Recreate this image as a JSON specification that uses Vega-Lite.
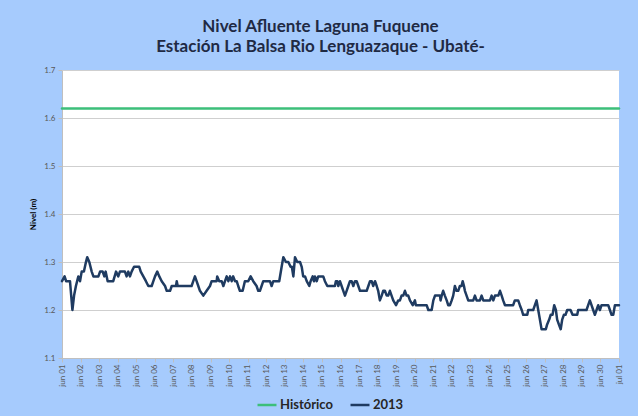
{
  "$schema": "https://vega.github.io/schema/vega-lite/v6.json",
  "width": 557,
  "height": 288,
  "autosize": {"type": "none"},
  "padding": {"left": 62, "top": 70, "right": 19, "bottom": 58},
  "background": "#a6cbfd",
  "title": {
    "text": ["Nivel Afluente Laguna Fuquene", "Estación La Balsa Rio Lenguazaque - Ubaté-"],
    "font": "Lato",
    "fontSize": 17,
    "fontWeight": "bold",
    "color": "#1f2a44",
    "lineHeight": 20,
    "offset": 10,
    "anchor": "middle",
    "dx": -20
  },
  "config": {
    "view": {"fill": "white", "stroke": null},
    "font": "Lato"
  },
  "datasets": {
    "niveles": [
      {"dia": 0, "nivel": 1.62, "serie": "Histórico"},
      {"dia": 30, "nivel": 1.62, "serie": "Histórico"},
      {"dia": 0.00, "nivel": 1.26, "serie": "2013"},
      {"dia": 0.14, "nivel": 1.27, "serie": "2013"},
      {"dia": 0.22, "nivel": 1.26, "serie": "2013"},
      {"dia": 0.43, "nivel": 1.26, "serie": "2013"},
      {"dia": 0.56, "nivel": 1.20, "serie": "2013"},
      {"dia": 0.65, "nivel": 1.23, "serie": "2013"},
      {"dia": 0.75, "nivel": 1.25, "serie": "2013"},
      {"dia": 0.88, "nivel": 1.27, "serie": "2013"},
      {"dia": 0.97, "nivel": 1.26, "serie": "2013"},
      {"dia": 1.06, "nivel": 1.28, "serie": "2013"},
      {"dia": 1.18, "nivel": 1.28, "serie": "2013"},
      {"dia": 1.29, "nivel": 1.30, "serie": "2013"},
      {"dia": 1.36, "nivel": 1.31, "serie": "2013"},
      {"dia": 1.47, "nivel": 1.30, "serie": "2013"},
      {"dia": 1.60, "nivel": 1.28, "serie": "2013"},
      {"dia": 1.69, "nivel": 1.27, "serie": "2013"},
      {"dia": 1.96, "nivel": 1.27, "serie": "2013"},
      {"dia": 2.05, "nivel": 1.28, "serie": "2013"},
      {"dia": 2.19, "nivel": 1.28, "serie": "2013"},
      {"dia": 2.28, "nivel": 1.27, "serie": "2013"},
      {"dia": 2.35, "nivel": 1.28, "serie": "2013"},
      {"dia": 2.46, "nivel": 1.26, "serie": "2013"},
      {"dia": 2.76, "nivel": 1.26, "serie": "2013"},
      {"dia": 2.91, "nivel": 1.28, "serie": "2013"},
      {"dia": 3.03, "nivel": 1.27, "serie": "2013"},
      {"dia": 3.12, "nivel": 1.28, "serie": "2013"},
      {"dia": 3.39, "nivel": 1.28, "serie": "2013"},
      {"dia": 3.48, "nivel": 1.27, "serie": "2013"},
      {"dia": 3.57, "nivel": 1.28, "serie": "2013"},
      {"dia": 3.66, "nivel": 1.27, "serie": "2013"},
      {"dia": 3.75, "nivel": 1.28, "serie": "2013"},
      {"dia": 3.88, "nivel": 1.29, "serie": "2013"},
      {"dia": 4.16, "nivel": 1.29, "serie": "2013"},
      {"dia": 4.24, "nivel": 1.28, "serie": "2013"},
      {"dia": 4.38, "nivel": 1.27, "serie": "2013"},
      {"dia": 4.52, "nivel": 1.26, "serie": "2013"},
      {"dia": 4.65, "nivel": 1.25, "serie": "2013"},
      {"dia": 4.83, "nivel": 1.25, "serie": "2013"},
      {"dia": 4.92, "nivel": 1.26, "serie": "2013"},
      {"dia": 5.01, "nivel": 1.27, "serie": "2013"},
      {"dia": 5.13, "nivel": 1.28, "serie": "2013"},
      {"dia": 5.24, "nivel": 1.27, "serie": "2013"},
      {"dia": 5.37, "nivel": 1.26, "serie": "2013"},
      {"dia": 5.55, "nivel": 1.25, "serie": "2013"},
      {"dia": 5.64, "nivel": 1.24, "serie": "2013"},
      {"dia": 5.82, "nivel": 1.24, "serie": "2013"},
      {"dia": 5.91, "nivel": 1.25, "serie": "2013"},
      {"dia": 6.14, "nivel": 1.25, "serie": "2013"},
      {"dia": 6.18, "nivel": 1.26, "serie": "2013"},
      {"dia": 6.23, "nivel": 1.25, "serie": "2013"},
      {"dia": 6.98, "nivel": 1.25, "serie": "2013"},
      {"dia": 7.07, "nivel": 1.26, "serie": "2013"},
      {"dia": 7.16, "nivel": 1.27, "serie": "2013"},
      {"dia": 7.25, "nivel": 1.26, "serie": "2013"},
      {"dia": 7.34, "nivel": 1.25, "serie": "2013"},
      {"dia": 7.43, "nivel": 1.24, "serie": "2013"},
      {"dia": 7.61, "nivel": 1.23, "serie": "2013"},
      {"dia": 7.79, "nivel": 1.24, "serie": "2013"},
      {"dia": 7.97, "nivel": 1.25, "serie": "2013"},
      {"dia": 8.06, "nivel": 1.26, "serie": "2013"},
      {"dia": 8.33, "nivel": 1.26, "serie": "2013"},
      {"dia": 8.36, "nivel": 1.27, "serie": "2013"},
      {"dia": 8.47, "nivel": 1.26, "serie": "2013"},
      {"dia": 8.60, "nivel": 1.26, "serie": "2013"},
      {"dia": 8.69, "nivel": 1.25, "serie": "2013"},
      {"dia": 8.78, "nivel": 1.26, "serie": "2013"},
      {"dia": 8.87, "nivel": 1.27, "serie": "2013"},
      {"dia": 8.96, "nivel": 1.26, "serie": "2013"},
      {"dia": 9.05, "nivel": 1.27, "serie": "2013"},
      {"dia": 9.14, "nivel": 1.26, "serie": "2013"},
      {"dia": 9.22, "nivel": 1.27, "serie": "2013"},
      {"dia": 9.32, "nivel": 1.26, "serie": "2013"},
      {"dia": 9.41, "nivel": 1.26, "serie": "2013"},
      {"dia": 9.49, "nivel": 1.25, "serie": "2013"},
      {"dia": 9.58, "nivel": 1.24, "serie": "2013"},
      {"dia": 9.73, "nivel": 1.24, "serie": "2013"},
      {"dia": 9.85, "nivel": 1.26, "serie": "2013"},
      {"dia": 10.03, "nivel": 1.26, "serie": "2013"},
      {"dia": 10.16, "nivel": 1.27, "serie": "2013"},
      {"dia": 10.30, "nivel": 1.26, "serie": "2013"},
      {"dia": 10.48, "nivel": 1.25, "serie": "2013"},
      {"dia": 10.57, "nivel": 1.24, "serie": "2013"},
      {"dia": 10.66, "nivel": 1.24, "serie": "2013"},
      {"dia": 10.75, "nivel": 1.25, "serie": "2013"},
      {"dia": 10.84, "nivel": 1.26, "serie": "2013"},
      {"dia": 11.20, "nivel": 1.26, "serie": "2013"},
      {"dia": 11.29, "nivel": 1.25, "serie": "2013"},
      {"dia": 11.38, "nivel": 1.26, "serie": "2013"},
      {"dia": 11.70, "nivel": 1.26, "serie": "2013"},
      {"dia": 11.83, "nivel": 1.29, "serie": "2013"},
      {"dia": 11.92, "nivel": 1.31, "serie": "2013"},
      {"dia": 12.06, "nivel": 1.30, "serie": "2013"},
      {"dia": 12.19, "nivel": 1.30, "serie": "2013"},
      {"dia": 12.31, "nivel": 1.29, "serie": "2013"},
      {"dia": 12.38, "nivel": 1.29, "serie": "2013"},
      {"dia": 12.46, "nivel": 1.27, "serie": "2013"},
      {"dia": 12.55, "nivel": 1.31, "serie": "2013"},
      {"dia": 12.67, "nivel": 1.30, "serie": "2013"},
      {"dia": 12.82, "nivel": 1.30, "serie": "2013"},
      {"dia": 12.91, "nivel": 1.29, "serie": "2013"},
      {"dia": 12.99, "nivel": 1.27, "serie": "2013"},
      {"dia": 13.09, "nivel": 1.27, "serie": "2013"},
      {"dia": 13.18, "nivel": 1.26, "serie": "2013"},
      {"dia": 13.32, "nivel": 1.25, "serie": "2013"},
      {"dia": 13.39, "nivel": 1.26, "serie": "2013"},
      {"dia": 13.50, "nivel": 1.27, "serie": "2013"},
      {"dia": 13.57, "nivel": 1.26, "serie": "2013"},
      {"dia": 13.62, "nivel": 1.27, "serie": "2013"},
      {"dia": 13.72, "nivel": 1.26, "serie": "2013"},
      {"dia": 13.80, "nivel": 1.27, "serie": "2013"},
      {"dia": 14.07, "nivel": 1.27, "serie": "2013"},
      {"dia": 14.16, "nivel": 1.26, "serie": "2013"},
      {"dia": 14.29, "nivel": 1.25, "serie": "2013"},
      {"dia": 14.70, "nivel": 1.25, "serie": "2013"},
      {"dia": 14.75, "nivel": 1.26, "serie": "2013"},
      {"dia": 14.83, "nivel": 1.26, "serie": "2013"},
      {"dia": 14.88, "nivel": 1.25, "serie": "2013"},
      {"dia": 14.97, "nivel": 1.26, "serie": "2013"},
      {"dia": 15.06, "nivel": 1.25, "serie": "2013"},
      {"dia": 15.15, "nivel": 1.24, "serie": "2013"},
      {"dia": 15.24, "nivel": 1.23, "serie": "2013"},
      {"dia": 15.33, "nivel": 1.24, "serie": "2013"},
      {"dia": 15.42, "nivel": 1.25, "serie": "2013"},
      {"dia": 15.51, "nivel": 1.26, "serie": "2013"},
      {"dia": 15.60, "nivel": 1.26, "serie": "2013"},
      {"dia": 15.69, "nivel": 1.25, "serie": "2013"},
      {"dia": 15.78, "nivel": 1.26, "serie": "2013"},
      {"dia": 15.87, "nivel": 1.26, "serie": "2013"},
      {"dia": 15.96, "nivel": 1.25, "serie": "2013"},
      {"dia": 16.05, "nivel": 1.24, "serie": "2013"},
      {"dia": 16.41, "nivel": 1.24, "serie": "2013"},
      {"dia": 16.50, "nivel": 1.25, "serie": "2013"},
      {"dia": 16.59, "nivel": 1.26, "serie": "2013"},
      {"dia": 16.68, "nivel": 1.26, "serie": "2013"},
      {"dia": 16.76, "nivel": 1.25, "serie": "2013"},
      {"dia": 16.86, "nivel": 1.26, "serie": "2013"},
      {"dia": 16.95, "nivel": 1.25, "serie": "2013"},
      {"dia": 17.03, "nivel": 1.24, "serie": "2013"},
      {"dia": 17.12, "nivel": 1.22, "serie": "2013"},
      {"dia": 17.22, "nivel": 1.23, "serie": "2013"},
      {"dia": 17.30, "nivel": 1.24, "serie": "2013"},
      {"dia": 17.39, "nivel": 1.24, "serie": "2013"},
      {"dia": 17.49, "nivel": 1.23, "serie": "2013"},
      {"dia": 17.57, "nivel": 1.23, "serie": "2013"},
      {"dia": 17.66, "nivel": 1.24, "serie": "2013"},
      {"dia": 17.75, "nivel": 1.23, "serie": "2013"},
      {"dia": 17.84, "nivel": 1.22, "serie": "2013"},
      {"dia": 17.99, "nivel": 1.21, "serie": "2013"},
      {"dia": 18.11, "nivel": 1.22, "serie": "2013"},
      {"dia": 18.20, "nivel": 1.22, "serie": "2013"},
      {"dia": 18.29, "nivel": 1.23, "serie": "2013"},
      {"dia": 18.38, "nivel": 1.23, "serie": "2013"},
      {"dia": 18.47, "nivel": 1.24, "serie": "2013"},
      {"dia": 18.56, "nivel": 1.23, "serie": "2013"},
      {"dia": 18.65, "nivel": 1.23, "serie": "2013"},
      {"dia": 18.74, "nivel": 1.22, "serie": "2013"},
      {"dia": 18.89, "nivel": 1.21, "serie": "2013"},
      {"dia": 19.01, "nivel": 1.22, "serie": "2013"},
      {"dia": 19.06, "nivel": 1.21, "serie": "2013"},
      {"dia": 19.64, "nivel": 1.21, "serie": "2013"},
      {"dia": 19.73, "nivel": 1.20, "serie": "2013"},
      {"dia": 19.91, "nivel": 1.20, "serie": "2013"},
      {"dia": 20.00, "nivel": 1.22, "serie": "2013"},
      {"dia": 20.09, "nivel": 1.23, "serie": "2013"},
      {"dia": 20.36, "nivel": 1.23, "serie": "2013"},
      {"dia": 20.39, "nivel": 1.22, "serie": "2013"},
      {"dia": 20.45, "nivel": 1.23, "serie": "2013"},
      {"dia": 20.53, "nivel": 1.24, "serie": "2013"},
      {"dia": 20.62, "nivel": 1.23, "serie": "2013"},
      {"dia": 20.72, "nivel": 1.22, "serie": "2013"},
      {"dia": 20.80, "nivel": 1.21, "serie": "2013"},
      {"dia": 20.89, "nivel": 1.21, "serie": "2013"},
      {"dia": 20.99, "nivel": 1.22, "serie": "2013"},
      {"dia": 21.07, "nivel": 1.23, "serie": "2013"},
      {"dia": 21.16, "nivel": 1.25, "serie": "2013"},
      {"dia": 21.25, "nivel": 1.24, "serie": "2013"},
      {"dia": 21.34, "nivel": 1.24, "serie": "2013"},
      {"dia": 21.43, "nivel": 1.25, "serie": "2013"},
      {"dia": 21.52, "nivel": 1.25, "serie": "2013"},
      {"dia": 21.58, "nivel": 1.26, "serie": "2013"},
      {"dia": 21.65, "nivel": 1.25, "serie": "2013"},
      {"dia": 21.70, "nivel": 1.24, "serie": "2013"},
      {"dia": 21.79, "nivel": 1.23, "serie": "2013"},
      {"dia": 21.88, "nivel": 1.22, "serie": "2013"},
      {"dia": 22.15, "nivel": 1.22, "serie": "2013"},
      {"dia": 22.24, "nivel": 1.23, "serie": "2013"},
      {"dia": 22.33, "nivel": 1.22, "serie": "2013"},
      {"dia": 22.51, "nivel": 1.22, "serie": "2013"},
      {"dia": 22.60, "nivel": 1.23, "serie": "2013"},
      {"dia": 22.69, "nivel": 1.22, "serie": "2013"},
      {"dia": 23.05, "nivel": 1.22, "serie": "2013"},
      {"dia": 23.14, "nivel": 1.23, "serie": "2013"},
      {"dia": 23.23, "nivel": 1.22, "serie": "2013"},
      {"dia": 23.32, "nivel": 1.23, "serie": "2013"},
      {"dia": 23.50, "nivel": 1.23, "serie": "2013"},
      {"dia": 23.59, "nivel": 1.24, "serie": "2013"},
      {"dia": 23.68, "nivel": 1.23, "serie": "2013"},
      {"dia": 23.76, "nivel": 1.22, "serie": "2013"},
      {"dia": 23.86, "nivel": 1.21, "serie": "2013"},
      {"dia": 24.30, "nivel": 1.21, "serie": "2013"},
      {"dia": 24.39, "nivel": 1.22, "serie": "2013"},
      {"dia": 24.57, "nivel": 1.22, "serie": "2013"},
      {"dia": 24.66, "nivel": 1.21, "serie": "2013"},
      {"dia": 24.76, "nivel": 1.20, "serie": "2013"},
      {"dia": 24.84, "nivel": 1.19, "serie": "2013"},
      {"dia": 25.06, "nivel": 1.19, "serie": "2013"},
      {"dia": 25.11, "nivel": 1.20, "serie": "2013"},
      {"dia": 25.38, "nivel": 1.20, "serie": "2013"},
      {"dia": 25.47, "nivel": 1.21, "serie": "2013"},
      {"dia": 25.56, "nivel": 1.22, "serie": "2013"},
      {"dia": 25.65, "nivel": 1.20, "serie": "2013"},
      {"dia": 25.74, "nivel": 1.18, "serie": "2013"},
      {"dia": 25.83, "nivel": 1.16, "serie": "2013"},
      {"dia": 26.06, "nivel": 1.16, "serie": "2013"},
      {"dia": 26.13, "nivel": 1.17, "serie": "2013"},
      {"dia": 26.24, "nivel": 1.18, "serie": "2013"},
      {"dia": 26.32, "nivel": 1.19, "serie": "2013"},
      {"dia": 26.42, "nivel": 1.19, "serie": "2013"},
      {"dia": 26.51, "nivel": 1.21, "serie": "2013"},
      {"dia": 26.60, "nivel": 1.20, "serie": "2013"},
      {"dia": 26.67, "nivel": 1.18, "serie": "2013"},
      {"dia": 26.76, "nivel": 1.17, "serie": "2013"},
      {"dia": 26.86, "nivel": 1.16, "serie": "2013"},
      {"dia": 26.94, "nivel": 1.18, "serie": "2013"},
      {"dia": 27.03, "nivel": 1.19, "serie": "2013"},
      {"dia": 27.12, "nivel": 1.19, "serie": "2013"},
      {"dia": 27.21, "nivel": 1.20, "serie": "2013"},
      {"dia": 27.39, "nivel": 1.20, "serie": "2013"},
      {"dia": 27.50, "nivel": 1.19, "serie": "2013"},
      {"dia": 27.75, "nivel": 1.19, "serie": "2013"},
      {"dia": 27.80, "nivel": 1.20, "serie": "2013"},
      {"dia": 28.25, "nivel": 1.20, "serie": "2013"},
      {"dia": 28.34, "nivel": 1.21, "serie": "2013"},
      {"dia": 28.43, "nivel": 1.22, "serie": "2013"},
      {"dia": 28.52, "nivel": 1.21, "serie": "2013"},
      {"dia": 28.61, "nivel": 1.20, "serie": "2013"},
      {"dia": 28.70, "nivel": 1.19, "serie": "2013"},
      {"dia": 28.79, "nivel": 1.20, "serie": "2013"},
      {"dia": 28.88, "nivel": 1.21, "serie": "2013"},
      {"dia": 28.97, "nivel": 1.20, "serie": "2013"},
      {"dia": 29.06, "nivel": 1.21, "serie": "2013"},
      {"dia": 29.42, "nivel": 1.21, "serie": "2013"},
      {"dia": 29.51, "nivel": 1.20, "serie": "2013"},
      {"dia": 29.60, "nivel": 1.19, "serie": "2013"},
      {"dia": 29.69, "nivel": 1.19, "serie": "2013"},
      {"dia": 29.78, "nivel": 1.21, "serie": "2013"},
      {"dia": 30.00, "nivel": 1.21, "serie": "2013"}
    ]
  },
  "data": {"name": "niveles"},
  "mark": {"type": "line", "strokeWidth": 2.5, "strokeJoin": "round", "strokeCap": "round"},
  "encoding": {
    "x": {
      "field": "dia",
      "type": "quantitative",
      "scale": {"domain": [0, 30], "nice": false, "zero": false},
      "axis": {
        "title": null,
        "grid": false,
        "values": [0,1,2,3,4,5,6,7,8,9,10,11,12,13,14,15,16,17,18,19,20,21,22,23,24,25,26,27,28,29,30],
        "labelExpr": "datum.value == 30 ? 'jul 01' : 'jun ' + (datum.value < 9 ? '0' : '') + (datum.value + 1)",
        "labelAngle": 270,
        "labelFontSize": 8,
        "labelColor": "#595959",
        "labelPadding": 2,
        "labelOverlap": false,
        "tickColor": "#bfbfbf",
        "tickSize": 4,
        "domainColor": "#bfbfbf"
      }
    },
    "y": {
      "field": "nivel",
      "type": "quantitative",
      "scale": {"domain": [1.1, 1.7], "nice": false, "zero": false},
      "axis": {
        "title": "Nivel (m)",
        "titleFontSize": 8,
        "titleFontWeight": "bold",
        "titleColor": "#000000",
        "titlePadding": 6,
        "values": [1.1, 1.2, 1.3, 1.4, 1.5, 1.6, 1.7],
        "format": ".1f",
        "labelFontSize": 8,
        "labelColor": "#595959",
        "labelPadding": 3,
        "tickSize": 4,
        "tickColor": "#bfbfbf",
        "domainColor": "#bfbfbf",
        "gridColor": "#cfcfcf"
      }
    },
    "color": {
      "field": "serie",
      "type": "nominal",
      "scale": {"domain": ["Histórico", "2013"], "range": ["#3cbf7a", "#1f3b61"]},
      "legend": {
        "title": null,
        "orient": "none",
        "legendX": 194,
        "legendY": 324,
        "direction": "horizontal",
        "symbolType": "stroke",
        "symbolStrokeWidth": 2.5,
        "symbolSize": 360,
        "labelFontSize": 13,
        "labelFontWeight": "bold",
        "labelColor": "#262626",
        "labelOffset": 2,
        "columnPadding": 12
      }
    }
  }
}
